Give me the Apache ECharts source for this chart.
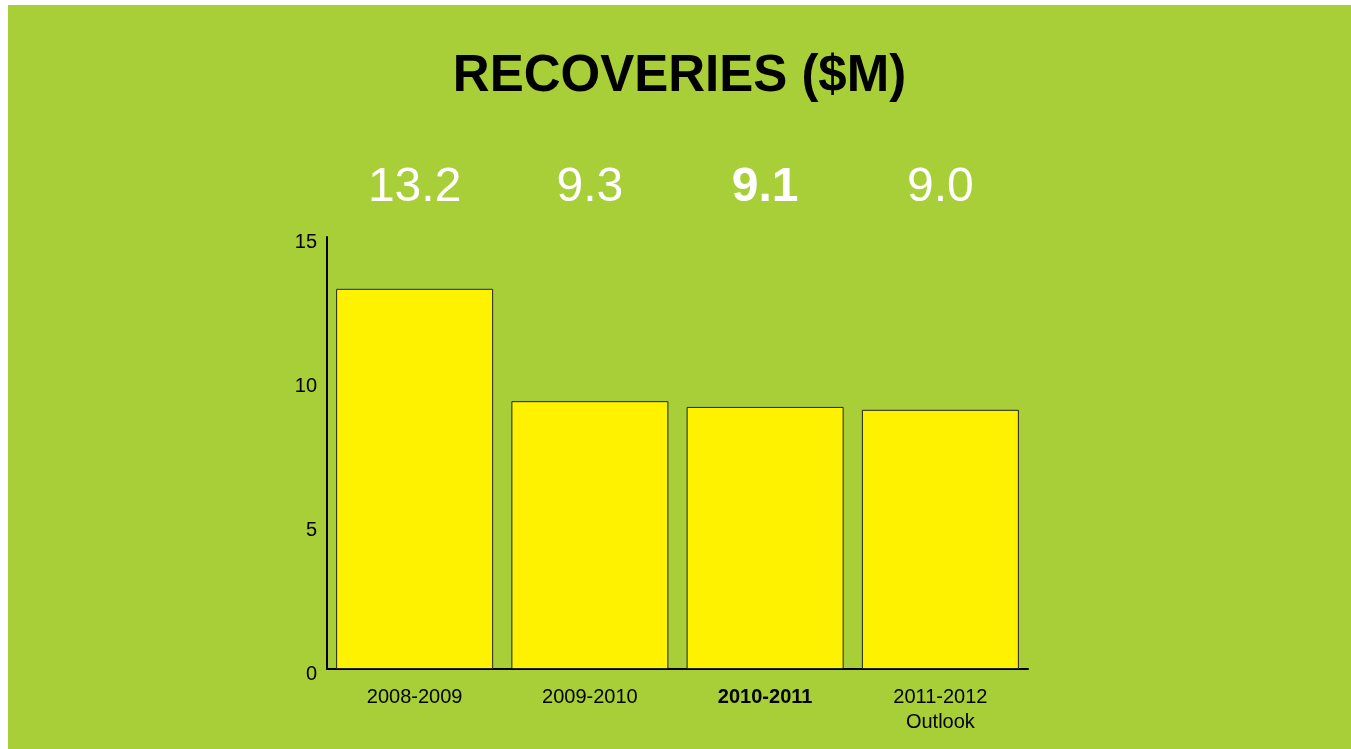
<!DOCTYPE html>
<html>
<head>
<meta charset="utf-8">
<script src="https://cdn.jsdelivr.net/npm/echarts@6/dist/echarts.min.js"></script>
<style>
  html, body { margin: 0; padding: 0; background: #ffffff; }
  #chart { position: absolute; left: 8px; top: 5px; width: 1343px; height: 744px; }
</style>
</head>
<body>
<div id="chart"></div>
<script>
// Recoveries by fiscal year, in millions of dollars
const categories = ['2008-2009', '2009-2010', '2010-2011', '2011-2012\nOutlook'];
const recoveries = [13.2, 9.3, 9.1, 9.0];
const yTicks = [0, 5, 10, 15];
const highlightIndex = 2; // current year shown in bold

const chart = echarts.init(document.getElementById('chart'), null, { renderer: 'canvas' });

const font = 'Liberation Sans, Arial, Helvetica, sans-serif';

chart.setOption({
  backgroundColor: '#a8cf38',
  animation: false,
  title: {
    text: 'RECOVERIES ($M)',
    left: 'center',
    top: 41,
    textStyle: { fontFamily: font, fontSize: 51, fontWeight: 'bold', color: '#000' }
  },
  grid: { left: 319, right: 323, top: 232, bottom: 80, containLabel: false },
  xAxis: [
    {
      type: 'category',
      data: categories,
      position: 'bottom',
      axisLine: { show: true, lineStyle: { color: '#000', width: 2 } },
      axisTick: { show: false },
      axisLabel: {
        interval: 0,
        margin: 16,
        fontFamily: font,
        fontSize: 20,
        lineHeight: 25,
        color: '#000',
        formatter: (v, i) => i === highlightIndex ? '{b|' + v + '}' : v,
        rich: { b: { fontFamily: font, fontSize: 20, fontWeight: 'bold', color: '#000' } }
      }
    },
    {
      // value captions across the top of the plot
      type: 'category',
      data: categories,
      position: 'top',
      axisLine: { show: false },
      axisTick: { show: false },
      axisLabel: {
        interval: 0,
        margin: 25,
        fontFamily: font,
        fontSize: 48,
        color: '#fff',
        formatter: (v, i) => {
          const t = recoveries[i].toFixed(1);
          return i === highlightIndex ? '{b|' + t + '}' : t;
        },
        rich: { b: { fontFamily: font, fontSize: 48, fontWeight: 'bold', color: '#fff' } }
      }
    }
  ],
  yAxis: {
    type: 'value',
    min: yTicks[0],
    max: yTicks[yTicks.length - 1],
    interval: yTicks[1] - yTicks[0],
    splitLine: { show: false },
    axisLine: { show: true, lineStyle: { color: '#000', width: 2 } },
    axisTick: { show: false },
    axisLabel: {
      margin: 10,
      fontFamily: font,
      fontSize: 20,
      color: '#000',
      verticalAlign: 'top',
      lineHeight: 10
    }
  },
  series: [{
    type: 'bar',
    xAxisIndex: 0,
    data: recoveries,
    barWidth: 157,
    itemStyle: { color: '#fff200', borderColor: '#222', borderWidth: 1 }
  }]
});
</script>
</body>
</html>
